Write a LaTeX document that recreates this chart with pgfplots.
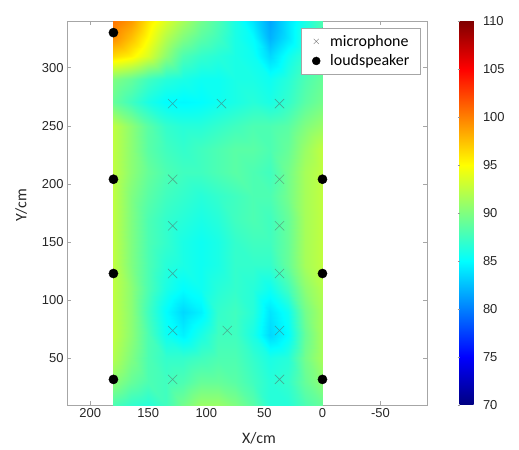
\documentclass[border=0pt]{standalone}
\usepackage{fontspec}
\setmainfont{Liberation Sans}
\newfontfamily\carlito{Carlito}
\usepackage{pgfplots}
\pgfplotsset{compat=1.18}
\usepackage{pgfplotstable}

\pgfplotsset{
  micimg/.style={legend image code/.code={\path[draw=none, fill=none] (0bp,-1bp) rectangle (19bp,1bp);
    \draw[##1, mark size=3.6bp, mark options={draw=black!55, opacity=1}] plot coordinates {(9bp,0bp)};}},
  spkimg/.style={legend image code/.code={\path[draw=none, fill=none] (0bp,-1bp) rectangle (19bp,1bp);
    \draw[##1, mark size=4bp] plot coordinates {(9bp,0bp)};}},
}

\pgfplotstableread{
x y z
180 10 88
165 10 87
150 10 86.5
135 10 87.5
120 10 89.5
105 10 91
90 10 91
75 10 90
60 10 88.5
45 10 86.5
30 10 86.5
15 10 88
0 10 89
180 30 90.5
165 30 89
150 30 88
135 30 87.5
120 30 88
105 30 89
90 30 89
75 30 88.5
60 30 87.5
45 30 86.5
30 30 87
15 30 89
0 30 90.5
180 50 92
165 50 90
150 50 88
135 50 87
120 50 87
105 50 87.5
90 50 88
75 50 88
60 50 87
45 50 86
30 50 86.5
15 50 89.5
0 50 91.5
180 70 92.5
165 70 90.5
150 70 88
135 70 85.5
120 70 84.5
105 70 86
90 70 87.5
75 70 87.5
60 70 86
45 70 83.5
30 70 85
15 70 89
0 70 91.5
180 90 92.5
165 90 90.5
150 90 87.5
135 90 85
120 90 83.5
105 90 84.5
90 90 87
75 90 87.5
60 90 86.5
45 90 84
30 90 85.5
15 90 89.5
0 90 91.5
180 110 92.5
165 110 90.5
150 110 88
135 110 86
120 110 85
105 110 85.5
90 110 86.5
75 110 87
60 110 86.5
45 110 85.5
30 110 87.5
15 110 90.5
0 110 92
180 130 92.5
165 130 90
150 130 88
135 130 86.5
120 130 86
105 130 85.5
90 130 86
75 130 87
60 130 87
45 130 87
30 130 89
15 130 91.5
0 130 92.5
180 150 92.5
165 150 90
150 150 88
135 150 87
120 150 86
105 150 85.5
90 150 86
75 150 87
60 150 87.5
45 150 87.5
30 150 89
15 150 91.5
0 150 92.5
180 170 92.5
165 170 90
150 170 88
135 170 87
120 170 86.5
105 170 86
90 170 86.5
75 170 87.5
60 170 88
45 170 87.5
30 170 89
15 170 91.5
0 170 92.5
180 190 92.5
165 190 90
150 190 88.5
135 190 87.5
120 190 87
105 190 86.5
90 190 87
75 190 87.5
60 190 88
45 190 88
30 190 89.5
15 190 91.5
0 190 92.5
180 210 92.5
165 210 90.5
150 210 89
135 210 88
120 210 87.5
105 210 87.5
90 210 88
75 210 88.5
60 210 88
45 210 87.5
30 210 89.5
15 210 91.5
0 210 92.5
180 230 92.5
165 230 90.5
150 230 88.5
135 230 87.5
120 230 87
105 230 87.5
90 230 88
75 230 88.5
60 230 88.5
45 230 88
30 230 89
15 230 91
0 230 92.5
180 250 92.5
165 250 90.5
150 250 88.5
135 250 87
120 250 86.5
105 250 86.5
90 250 87
75 250 87.5
60 250 88
45 250 88
30 250 88.5
15 250 90
0 250 91
180 270 89
165 270 87.5
150 270 86
135 270 85
120 270 84.8
105 270 85
90 270 85.5
75 270 86
60 270 86.5
45 270 86
30 270 87
15 270 88.5
0 270 89.5
180 290 90
165 290 89
150 290 87.5
135 290 86.5
120 290 86
105 290 85.5
90 290 85.5
75 290 86
60 290 86
45 290 85.5
30 290 86.5
15 290 88
0 290 89
180 310 96.5
165 310 95.5
150 310 93.5
135 310 90.5
120 310 88
105 310 87
90 310 86.5
75 310 86
60 310 85.5
45 310 83.5
30 310 85.5
15 310 87
0 310 88
180 325 99.5
165 325 97.5
150 325 95
135 325 92
120 325 90
105 325 88.5
90 325 87.5
75 325 86
60 325 85
45 325 82
30 325 84
15 325 86.5
0 325 88
180 340 100.5
165 340 99
150 340 96
135 340 93.5
120 340 91.5
105 340 89.5
90 340 88
75 340 86
60 340 84
45 340 81.5
30 340 84
15 340 86
0 340 88
}\heat

\pgfplotstableread{
x y
129 269
87 269
37 269
129 204
37 204
129 164
37 164
129 123
37 123
129 74
82 74
37 74
129 32
37 32
}\mics

\pgfplotstableread{
x y
180 330
180 204
180 123
180 32
0 330
0 204
0 123
0 32
}\speakers

\begin{document}
\begin{tikzpicture}
\useasboundingbox (-67bp,-45bp) rectangle (452bp,405bp);
\begin{axis}[
  at={(0,0)}, anchor=south west,
  scale only axis, width=360bp, height=384bp,
  x dir=reverse,
  xmin=-90, xmax=220, ymin=10, ymax=340,
  xtick={-50,0,50,100,150,200}, ytick={50,100,150,200,250,300},
  tick align=inside, major tick length=4bp,
  axis line style={draw=black!35},
  tick style={draw=black!35},
  ticklabel style={font=\fontsize{13}{15}\selectfont, text=black!85},
  /pgf/number format/assume math mode=true,
  xlabel={X/cm}, ylabel={Y/cm},
  label style={font=\carlito\fontsize{16}{18}\selectfont, text=black!85},
  xlabel style={xshift=12bp, yshift=-8bp},
  ylabel style={xshift=8bp, yshift=8bp},
  colormap/jet, point meta min=70, point meta max=110,
  colorbar,
  colorbar style={
    at={(parent axis.north east)}, anchor=north west, xshift=24bp,
    scale only axis, width=30bp, height=384bp,
    ytick={70,75,80,85,90,95,100,105,110},
    tick align=outside, major tick length=2bp,
    tick style={draw=black!40},
    axis line style={draw=none},
    yticklabel style={font=\fontsize{13}{15}\selectfont, text=black!85, xshift=-12bp},
    /pgf/number format/assume math mode=true,
  },
  legend style={at={(axis description cs:0.981,0.982)}, anchor=north east,
    draw=black!35, fill=white, font=\carlito\fontsize{16}{18}\selectfont,
    inner xsep=6.5bp, inner ysep=6bp, row sep=5bp,
    nodes={inner xsep=4bp, inner ysep=1bp}},
  legend cell align=left,
]
\addplot[surf, shader=interp, mesh/cols=13, point meta=\thisrow{z}, forget plot] table[x=x, y=y] {\heat};
\addplot[only marks, mark=x, mark size=6.5bp,
  mark options={draw=black!65, opacity=0.5, line width=0.6pt}, micimg]
  table[x=x, y=y] {\mics};
\addlegendentry{microphone}
\addplot[only marks, mark=*, mark size=4.6bp, black, spkimg]
  table[x=x, y=y] {\speakers};
\addlegendentry{loudspeaker}
\end{axis}
\end{tikzpicture}
\end{document}
